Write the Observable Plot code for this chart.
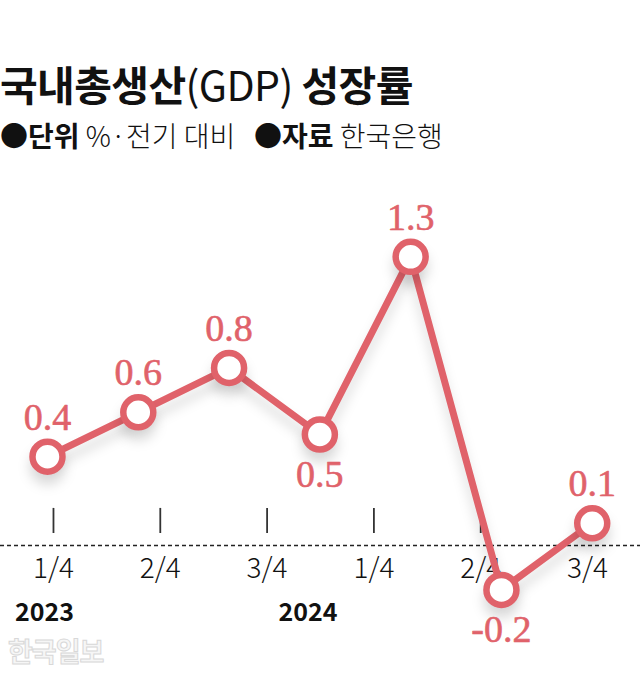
<!DOCTYPE html>
<html><head><meta charset="utf-8">
<script src="https://cdn.jsdelivr.net/npm/d3@7"></script>
<script src="https://cdn.jsdelivr.net/npm/@observablehq/plot@0.6"></script>
<style>
body{margin:0;background:#fff;}
#wrap{position:relative;width:640px;height:680px;overflow:hidden;font-family:"Noto Sans CJK KR","Noto Sans",sans-serif;color:#111;}
#title{position:absolute;left:0;top:63px;font-size:41px;font-weight:700;letter-spacing:-0.6px;line-height:1;white-space:nowrap;}
#title .r{font-weight:400;}
#sub{position:absolute;left:0;top:121px;font-size:28px;line-height:1;letter-spacing:0px;white-space:nowrap;}
#sub b{font-weight:700;}
#sub span{font-weight:300;}
#chart{position:absolute;left:0;top:160px;}
#mark{position:absolute;left:8px;top:637px;font-size:27px;font-weight:700;color:#f6f6f6;-webkit-text-stroke:1px #d8d8d8;letter-spacing:-1px;line-height:1;}
</style></head>
<body><div id="wrap">
<div id="title">국내총생산<span class="r">(GDP)</span> 성장률</div>
<div id="sub"><b>●단위</b><span> %·전기 대비</span>&nbsp;&nbsp;&nbsp;<b>●자료</b><span> 한국은행</span></div>
<div id="chart"></div>
<div id="mark">한국일보</div>
</div>
<script>
const values = [0.4, 0.6, 0.8, 0.5, 1.3, -0.2, 0.1];
const valueLabels = ["0.4", "0.6", "0.8", "0.5", "1.3", "-0.2", "0.1"];
const labelBelow = [false, false, false, true, false, true, false];
const tickLabels = ["1/4", "2/4", "3/4", "1/4", "2/4", "3/4"];
const years = ["2023", "2024"];
const yearTick = [0, 3];

const color = "#e0626a";
const pts = values.map((v, i) => ({v, x: -0.056 + i * 0.85, label: valueLabels[i], below: labelBelow[i]}));
const ticks = tickLabels.map((t, j) => ({t, j}));
const yrs = years.map((t, k) => ({t, j: yearTick[k]}));

const chart = Plot.plot({
  width: 640, height: 520,
  marginTop: 0, marginBottom: 0, marginLeft: 0, marginRight: 0,
  x: {type: "linear", domain: [-0.496, 5.496], axis: null},
  y: {type: "linear", domain: [-0.608, 1.734], axis: null},
  marks: [
    Plot.ruleY([0], {stroke: "#222", strokeWidth: 1.3, strokeDasharray: "4,3"}),
    Plot.ruleX(ticks, {x: "j", y1: 0.054, y2: 0.167, stroke: "#333", strokeWidth: 1.8}),
    Plot.text(ticks, {x: "j", y: -0.108, text: "t", fontSize: 28, fontWeight: 300, fontFamily: "Noto Sans CJK KR", fill: "#111"}),
    Plot.text(yrs.slice(0,1), {x: "j", y: -0.302, text: "t", dx: -9, fontSize: 25, fontWeight: 700, fontFamily: "Noto Sans CJK KR", fill: "#111"}),
    Plot.text(yrs.slice(1), {x: "j", y: -0.302, text: "t", dx: -66, fontSize: 25, fontWeight: 700, fontFamily: "Noto Sans CJK KR", fill: "#111"}),
    Plot.line(pts, {x: "x", y: "v", stroke: color, strokeWidth: 7, curve: "linear"}),
    Plot.dot(pts, {x: "x", y: "v", r: 15, fill: "white", stroke: color, strokeWidth: 6.5}),
    Plot.text(pts.filter(d => !d.below), {x: "x", y: "v", text: "label", dy: -39, fontSize: 38, fontFamily: "Liberation Serif", fill: color, stroke: color, strokeWidth: 0.6}),
    Plot.text(pts.filter(d => d.below), {x: "x", y: "v", text: "label", dy: 40, fontSize: 38, fontFamily: "Liberation Serif", fill: color, stroke: color, strokeWidth: 0.6})
  ]
});
d3.select(chart).selectAll('g[aria-label="line"], g[aria-label="dot"]').style("filter", "drop-shadow(0px 10px 6px rgba(0,0,0,0.14))");
document.getElementById("chart").appendChild(chart);
</script>
</body></html>
